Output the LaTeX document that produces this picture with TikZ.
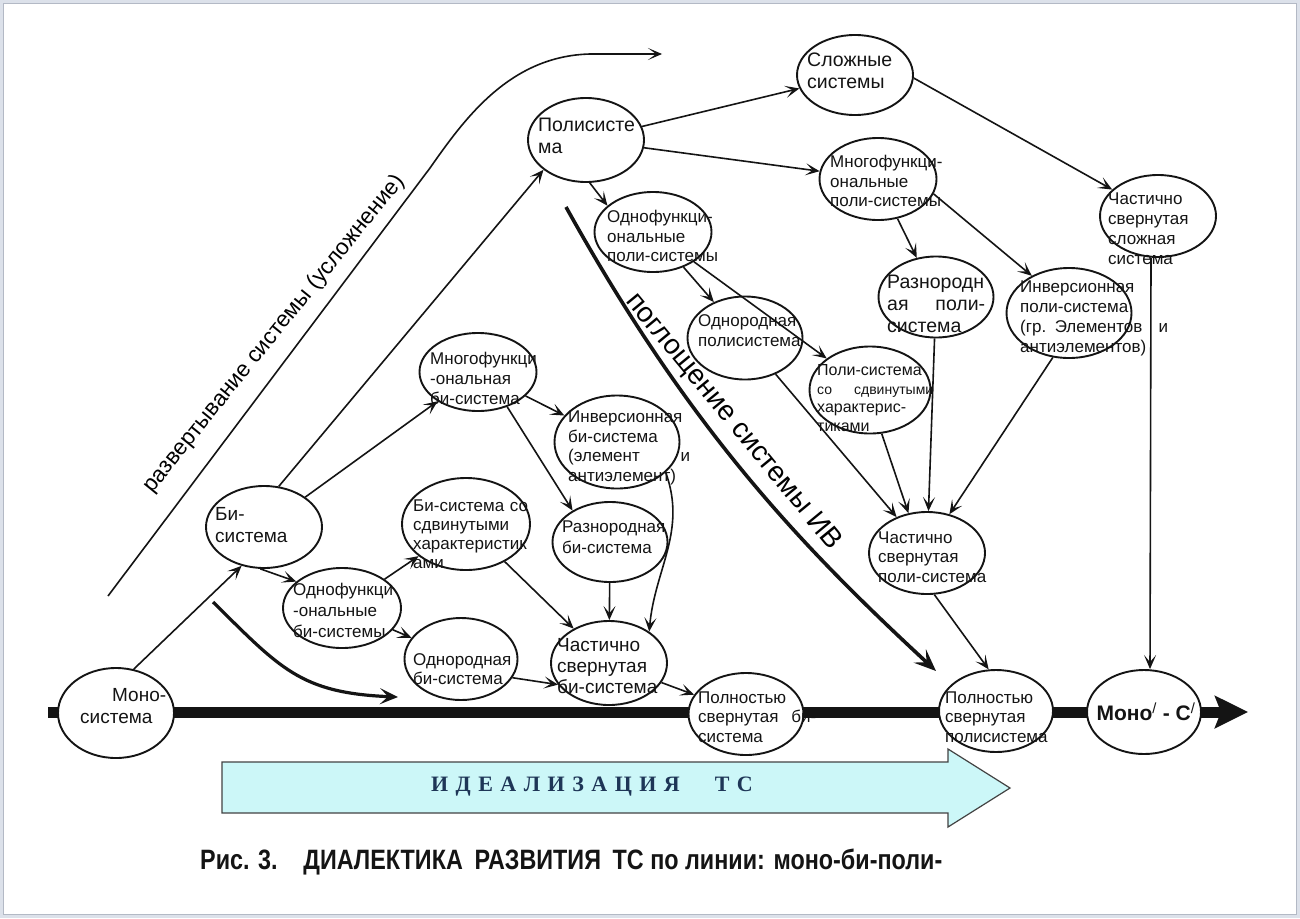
\documentclass[tikz,border=0pt]{standalone}
\usepackage{fontspec}
\usepackage{graphicx}
\setmainfont{Liberation Sans}
\newfontfamily\idealfont{Liberation Serif}[LetterSpace=34]
\usetikzlibrary{arrows.meta,calc,shapes.geometric}
\definecolor{ink}{HTML}{141414}
\definecolor{ideal}{HTML}{CCF7F8}
\definecolor{idealtext}{HTML}{1E3657}
\definecolor{framefill}{HTML}{DCE1EA}
\definecolor{frameline}{HTML}{B3B9C5}
\newcommand{\nsz}{\fontsize{17}{19.5}\selectfont}
\newcommand{\nbig}{\fontsize{19.5}{22}\selectfont}
\newcommand{\nsm}{\fontsize{16}{18.5}\selectfont}
\newcommand{\fillgap}{\hskip 0pt plus 1fill\relax}
\begin{document}
\begin{tikzpicture}[x=1pt,y=-1pt,
  sys/.style={draw=ink,fill=white,ellipse,line width=1.9pt,inner sep=0},
  txt/.style={anchor=west,inner sep=0,align=left,text=ink,font=\nsz,text width=130pt},
  flow/.style={draw=ink,line width=1.6pt,-{Stealth[length=14pt,width=12pt,inset=7pt]}}]
\useasboundingbox (0,0) rectangle (1300,918);
\fill[framefill] (0,0) rectangle (1300,918);
\fill[white] (3.5,3.5) rectangle (1296.5,914.5);
\draw[frameline,line width=1.2pt] (3.5,3.5) rectangle (1296.5,914.5);
\coordinate (ax0) at (48,712);
\coordinate (ax1) at (1248,712);
\draw[ink,line width=11pt,-{Stealth[length=33pt,width=32pt,inset=6pt]}] (ax0) -- (ax1);
\draw[fill=ideal,draw=ink!80,line width=1.2pt] (222,762) -- (948,762) -- (948,749) -- (1010,788) -- (948,827) -- (948,813) -- (222,813) -- cycle;
\node[inner sep=0,font={\idealfont\bfseries\fontsize{22}{24}\selectfont},text=idealtext] (ideal) at (592,787) {ИДЕАЛИЗАЦИЯ\hspace{35pt}ТС};
\coordinate (razv0) at (108,596);
\coordinate (razv1) at (662,54);
\draw[ink,line width=1.6pt,-{Stealth[length=14pt,width=12pt,inset=8pt]}] (razv0) -- (430,168) .. controls (465,118) and (510,56) .. (590,54) -- (razv1);
\node[rotate=51,inner sep=0,font=\fontsize{22.5}{24}\selectfont] (razv) at (274,334) {развертывание системы (усложнение)};
\coordinate (pogl0) at (566,207);
\coordinate (pogl1) at (936,671);
\draw[ink,line width=3.6pt,-{Stealth[length=22pt,width=18pt,inset=9pt]}] (pogl0) .. controls (690,430) and (800,545) .. (pogl1);
\node[rotate=-50.5,inner sep=0,font=\fontsize{28}{30}\selectfont] (pogl) at (733,422) {поглощение системы ИВ};
\coordinate (low0) at (213,602);
\coordinate (low1) at (398,697);
\draw[ink,line width=3.2pt,-{Stealth[length=18pt,width=16pt,inset=8pt]}] (low0) .. controls (280,668) and (300,693) .. (low1);
\node[sys,minimum width=116pt,minimum height=90pt] (mono) at (116,713) {};
\node[sys,minimum width=116pt,minimum height=82pt] (bi) at (264,527) {};
\node[sys,minimum width=118pt,minimum height=80pt] (odnofbi) at (342,608) {};
\node[sys,minimum width=117pt,minimum height=78pt] (mnogobi) at (478,372) {};
\node[sys,minimum width=128pt,minimum height=92pt] (bisdv) at (466,524) {};
\node[sys,minimum width=113pt,minimum height=82pt] (odnorbi) at (461,659) {};
\node[sys,minimum width=125pt,minimum height=93pt] (invbi) at (617,442) {};
\node[sys,minimum width=115pt,minimum height=80pt] (raznbi) at (610,542) {};
\node[sys,minimum width=116pt,minimum height=84pt] (chastbi) at (609,663) {};
\node[sys,minimum width=115pt,minimum height=82pt] (polnbi) at (746,714) {};
\node[sys,minimum width=116pt,minimum height=84pt] (poly) at (586,140) {};
\node[sys,minimum width=116pt,minimum height=80pt] (slozh) at (855,75) {};
\node[sys,minimum width=117pt,minimum height=82pt] (mnogopoly) at (878,179) {};
\node[sys,minimum width=117pt,minimum height=80pt] (odnofpoly) at (653,232) {};
\node[sys,minimum width=115pt,minimum height=83pt] (odnorpoly) at (745,338) {};
\node[sys,minimum width=115pt,minimum height=81pt] (raznpoly) at (936,297) {};
\node[sys,minimum width=125pt,minimum height=90pt] (invpoly) at (1069,313) {};
\node[sys,minimum width=116pt,minimum height=82pt] (chastslozh) at (1158,216) {};
\node[sys,minimum width=121pt,minimum height=87pt] (polysdv) at (870,390) {};
\node[sys,minimum width=116pt,minimum height=82pt] (chastpoly) at (927,553) {};
\node[sys,minimum width=114pt,minimum height=82pt] (polnpoly) at (996,711) {};
\node[sys,minimum width=114pt,minimum height=84pt] (mono2) at (1144,712) {};
\draw[flow] (mono.68) -- (bi.240);
\draw[flow] (bi.-95) -- (odnofbi.150);
\draw[flow] (bi) -- (mnogobi);
\draw[flow] (bi.70) -- (poly.215);
\draw[flow] (odnofbi) -- (bisdv);
\draw[flow] (odnofbi) -- (odnorbi);
\draw[flow] (mnogobi) -- (invbi);
\draw[flow] (mnogobi.-50) -- (raznbi.140);
\draw[flow] (bisdv) -- (chastbi);
\draw[flow] (odnorbi.-20) -- (chastbi.203);
\draw[flow] (raznbi) -- (chastbi);
\draw[flow] (invbi.-32) to[out=-70,in=85] (chastbi.38);
\draw[flow] (chastbi) -- (polnbi);
\draw[flow] (poly) -- (slozh);
\draw[flow] (poly) -- (mnogopoly);
\draw[flow] (poly.-85) -- (odnofpoly.150);
\draw[flow] (odnofpoly) -- (odnorpoly);
\draw[flow] (odnofpoly) -- (polysdv);
\draw[flow] (mnogopoly) -- (raznpoly);
\draw[flow] (mnogopoly.-15) -- (invpoly.135);
\draw[flow] (slozh.-3) -- (chastslozh.150);
\draw[flow] ($(chastslozh.south)+(-7,0)$) -- ($(mono2.north)+(6,0)$);
\draw[flow] (odnorpoly) -- (chastpoly);
\draw[flow] (polysdv.-75) -- (chastpoly.115);
\draw[flow] (raznpoly) -- (chastpoly);
\draw[flow] (invpoly.-110) -- (chastpoly.60);
\draw[flow] (chastpoly.-80) -- (polnpoly.100);
\node[txt,font=\fontsize{19}{22}\selectfont,text width=86pt] (mono-t) at (80,706) {\fillgap Моно-\\система};
\node[txt,font=\fontsize{19}{22}\selectfont] (bi-t) at (215,525) {Би-\\система};
\node[txt,font=\fontsize{17}{21}\selectfont] (odnofbi-t) at (293,610) {Однофункци\\-ональные\\би-системы};
\node[txt,font=\fontsize{17}{20}\selectfont] (mnogobi-t) at (430,378) {Многофункци\\-ональная\\би-система};
\node[txt,font=\fontsize{17}{19}\selectfont] (bisdv-t) at (413,534) {Би-система со\\сдвинутыми\\характеристик\\ами};
\node[txt,font=\fontsize{17}{19}\selectfont] (odnorbi-t) at (413,669) {Однородная\\би-система};
\node[txt,text width=122pt] (invbi-t) at (568,448) {Инверсионная\\би-система\\(элемент\fillgap и\\антиэлемент)};
\node[txt,font=\fontsize{17}{21}\selectfont] (raznbi-t) at (562,537) {Разнородная\\би-система};
\node[txt,font=\fontsize{19}{21}\selectfont] (chastbi-t) at (557,666) {Частично\\свернутая\\би-система};
\node[txt,text width=118pt] (polnbi-t) at (698,717) {Полностью\\свернутая\fillgap би-\\система};
\node[txt,font=\nbig] (poly-t) at (538,136) {Полисисте\\ма};
\node[txt,font=\nbig] (slozh-t) at (807,71) {Сложные\\системы};
\node[txt] (mnogopoly-t) at (830,181) {Многофункци-\\ональные\\поли-системы};
\node[txt] (odnofpoly-t) at (607,236) {Однофункци-\\ональные\\поли-системы};
\node[txt,font=\fontsize{17}{20}\selectfont] (odnorpoly-t) at (698,331) {Однородная\\полисистема};
\node[txt,font=\nbig,text width=98pt] (raznpoly-t) at (887,304) {Разнородн\\ая\fillgap поли-\\система};
\node[txt,font=\fontsize{17}{20}\selectfont,text width=148pt] (invpoly-t) at (1020,318) {Инверсионная\\поли-система\\(гр. Элементов\fillgap и\\антиэлементов)};
\node[txt,font=\fontsize{17}{20}\selectfont] (chastslozh-t) at (1108,229) {Частично\\свернутая\\сложная\\система};
\node[txt,font=\nsm,text width=116pt] (polysdv-t) at (817,398) {Поли-система\\{\fontsize{14}{18.5}\selectfont со\fillgap сдвинутыми}\\характерис-\\тиками};
\node[txt] (chastpoly-t) at (878,557) {Частично\\свернутая\\поли-система};
\node[txt] (polnpoly-t) at (945,717) {Полностью\\свернутая\\полисистема};
\node[inner sep=0,font=\bfseries\fontsize{21}{24}\selectfont,text=ink] (mono2-t) at (1146,712) {Моно\textsuperscript{\mdseries/} - С\textsuperscript{\mdseries/}};
\node[anchor=west,inner sep=0,font=\bfseries\fontsize{28}{30}\selectfont,text=ink] (caption) at (200,862) {\resizebox{742pt}{\height}{Рис. 3.\hspace{1.1em}ДИАЛЕКТИКА\hspace{0.5em}РАЗВИТИЯ\hspace{0.5em}ТС по линии: моно-би-поли-}};
\end{tikzpicture}
\end{document}
